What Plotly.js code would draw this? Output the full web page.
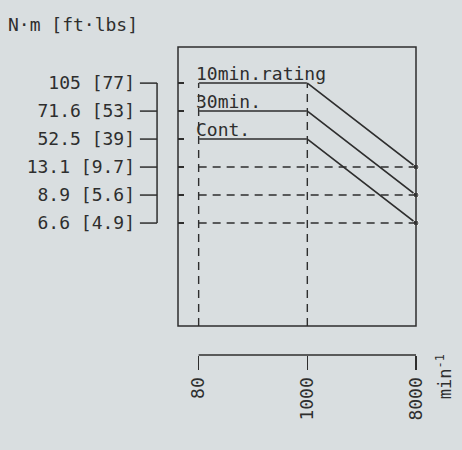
<!DOCTYPE html>
<html>
<head>
<meta charset="utf-8">
<script src="https://cdn.plot.ly/plotly-3.0.1.min.js"></script>
<style>html,body{margin:0;padding:0;background:#d9dee0;}</style>
</head>
<body>
<div id="chart" style="width:462px;height:450px;"></div>
<script>
// ---- data ----
const speeds = [80, 1000, 8000];                         // min^-1
const rating10 = [105, 105, 13.1];                       // 10min.rating, N·m
const rating30 = [71.6, 71.6, 8.9];                      // 30min., N·m
const ratingCont = [52.5, 52.5, 6.6];                    // Cont., N·m
const torqueLevels = [6.6, 8.9, 13.1, 52.5, 71.6, 105];  // labelled levels
const torqueLabels = ['6.6 [4.9]', '8.9 [5.6]', '13.1 [9.7]', '52.5 [39]', '71.6 [53]', '105 [77]'];
const seriesNames = ['10min.rating', '30min.', 'Cont.'];

// ---- styling ----
const ink = '#2e2e2e';
const bg = '#d9dee0';
const font = 'DejaVu Sans Mono, monospace';
const yRange = [-3.68, 6.29];
const xRange = [-0.19, 2.0];

const sx = speeds.map(String);
const lvl = v => torqueLevels.indexOf(v);
const series = [rating10, rating30, ratingCont];

const traces = [];
// rating curves
series.forEach((s, i) => {
  traces.push({
    x: sx, y: s.map(String), name: seriesNames[i],
    mode: 'lines+markers', line: {color: ink, width: 1.5},
    marker: {color: ink, size: [1, 1, 6]},
    hoverinfo: 'skip', cliponaxis: false
  });
});
// dashed reference lines at the high-speed torque levels
series.forEach(s => {
  const end = s[s.length - 1];
  traces.push({
    x: [sx[0], sx[sx.length - 1]], y: [String(end), String(end)],
    mode: 'lines', line: {color: ink, width: 1.4, dash: '8px,6px'},
    hoverinfo: 'skip', cliponaxis: false
  });
});

const shapes = [];
// frame of the plot
shapes.push({type: 'rect', xref: 'paper', yref: 'y domain', x0: 0, x1: 1, y0: 0, y1: 1,
  line: {color: ink, width: 1.5}});
// x-axis bracket
shapes.push({type: 'line', xref: 'x', yref: 'paper', x0: 0, x1: speeds.length - 1, y0: 0, y1: 0,
  line: {color: ink, width: 1.5}});
// vertical dashed guides at 80 and 1000
[0, 1].forEach(i => {
  shapes.push({type: 'line', xref: 'x', yref: 'y', x0: i, x1: i, y0: yRange[0], y1: lvl(rating10[i]),
    line: {color: ink, width: 1.4, dash: '8px,6px'}});
});
// label bracket on the left
const bx = -0.088, sx0 = -0.16;
shapes.push({type: 'line', xref: 'paper', yref: 'y', x0: bx, x1: bx, y0: 0, y1: torqueLevels.length - 1,
  line: {color: ink, width: 1.5}});
torqueLevels.forEach((v, i) => {
  shapes.push({type: 'line', xref: 'paper', yref: 'y', x0: sx0, x1: bx, y0: i, y1: i,
    line: {color: ink, width: 1.5}});
});

const annotations = series.map((s, i) => ({
  x: 0, y: lvl(s[0]), xref: 'x', yref: 'y', text: seriesNames[i],
  xanchor: 'left', yanchor: 'bottom', xshift: -5, yshift: -3, showarrow: false,
  font: {family: font, size: 18, color: ink}
}));
annotations.push({
  x: 1.17, y: -0.15, xref: 'paper', yref: 'paper', text: 'min<sup>-1</sup>', textangle: -90,
  showarrow: false, font: {family: font, size: 17, color: ink}
});

const layout = {
  width: 462, height: 450,
  paper_bgcolor: bg, plot_bgcolor: bg,
  margin: {l: 178, r: 46, t: 47, b: 95},
  showlegend: false,
  title: {text: 'N·m [ft·lbs]', x: 8 / 462, xref: 'container', xanchor: 'left',
    y: 1 - 25 / 450, yref: 'container', yanchor: 'middle',
    font: {family: font, size: 18, color: ink}},
  xaxis: {
    type: 'category', categoryorder: 'array', categoryarray: sx,
    range: xRange, anchor: 'free', position: 0,
    showgrid: false, zeroline: false, showline: false,
    ticks: 'outside', ticklen: 14, tickwidth: 1.5, tickcolor: ink,
    tickangle: -90, tickfont: {family: font, size: 18, color: ink}
  },
  yaxis: {
    type: 'category', categoryorder: 'array', categoryarray: torqueLevels.map(String),
    range: yRange, domain: [0.094, 1], anchor: 'x',
    showgrid: false, zeroline: false, showline: false,
    tickmode: 'array', tickvals: torqueLevels.map(String), ticktext: torqueLabels,
    ticks: 'inside', ticklen: 6, tickwidth: 1.5, tickcolor: ink, ticklabelstandoff: 42,
    tickfont: {family: font, size: 18, color: ink}
  },
  shapes: shapes,
  annotations: annotations
};

Plotly.newPlot('chart', traces, layout, {displayModeBar: false, staticPlot: true});
</script>
</body>
</html>
